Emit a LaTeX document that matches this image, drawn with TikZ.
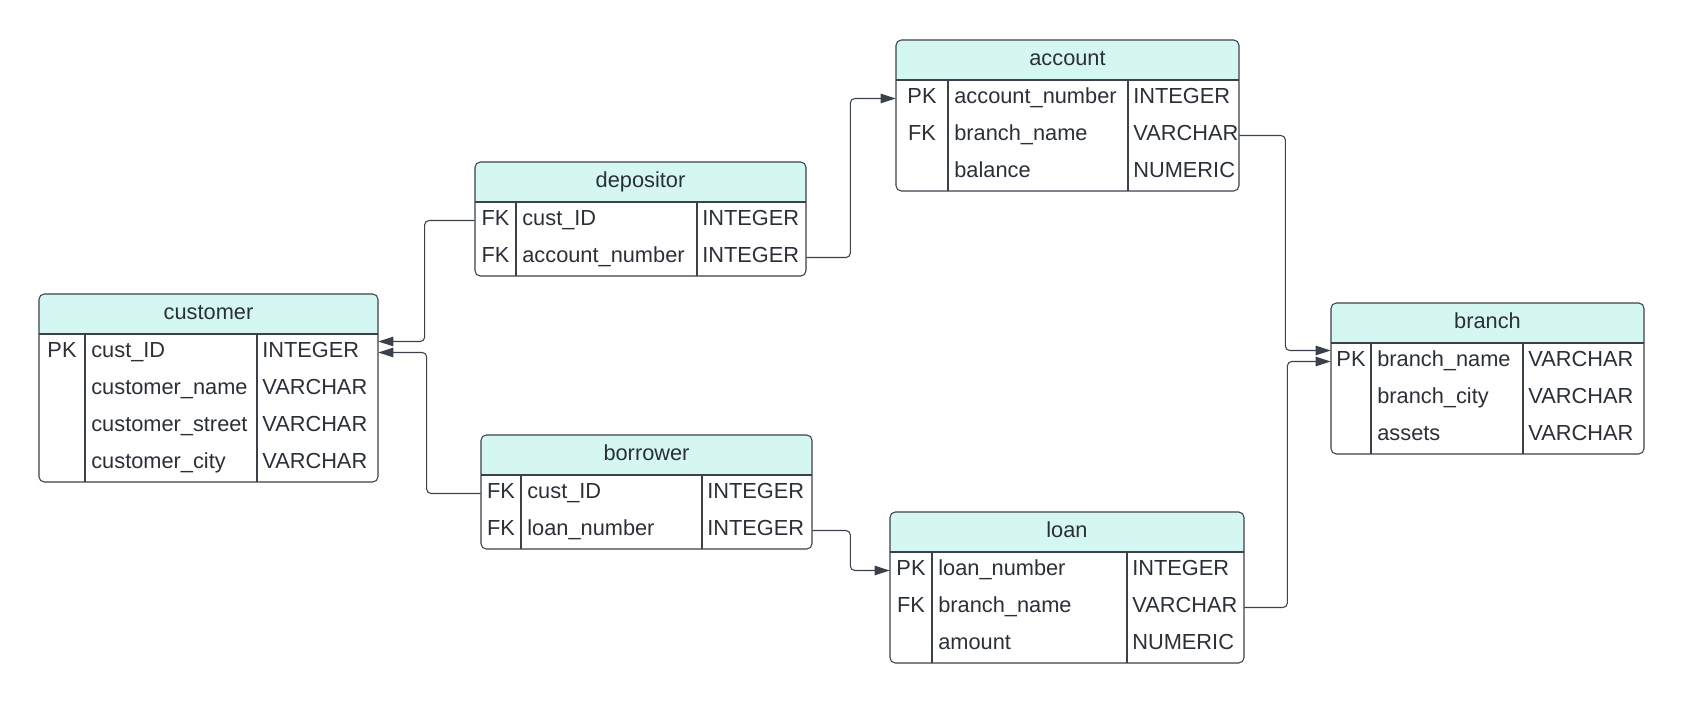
\documentclass[tikz,border=0pt]{standalone}
\usepackage{fontspec}
\setmainfont{Liberation Sans}
\usetikzlibrary{arrows.meta}

\definecolor{hdrfill}{HTML}{D5F7F2}
\definecolor{edgecol}{HTML}{3A414A}
\definecolor{txtcol}{HTML}{2B3038}

\tikzset{
  tabletext/.style={inner sep=0, text=txtcol, font=\fontsize{12.4}{15}\selectfont,
    text height=8.9pt, text depth=2.6pt},
  tabletitle/.style={tabletext, anchor=center},
  keycell/.style={tabletext, anchor=center},
  cell/.style={tabletext, anchor=west},
  rowbox/.style={inner sep=0, minimum height=0.74cm},
  tableline/.style={draw=edgecol, line width=0.6pt},
  fk/.style={draw=edgecol, line width=0.6pt, rounded corners=2.5pt,
    -{Triangle[length=0.3cm,width=0.19cm]}},
}

% #1 name, #2 title, #3 left, #4 first column, #5 second column,
% #6 right, #7 top, #8 number of rows, #9 rows key/name/type
\newcommand{\ertable}[9]{%
  \begin{scope}
    \clip[rounded corners=3pt] (#3,#7) rectangle (#6,{#7+40+37*#8});
    \fill[hdrfill] (#3,#7) rectangle (#6,{#7+40});
  \end{scope}
  \draw[tableline, rounded corners=3pt] (#3,#7) rectangle (#6,{#7+40+37*#8});
  \draw[tableline] (#3,{#7+40}) -- (#6,{#7+40});
  \draw[tableline] (#4,{#7+40}) -- (#4,{#7+40+37*#8});
  \draw[tableline] (#5,{#7+40}) -- (#5,{#7+40+37*#8});
  \node[tabletitle] (#1) at ({(#3+#6)/2},{#7+19.5}) {#2};
  \foreach \rk/\rn/\rt [count=\ri] in {#9} {
    \node[rowbox, minimum width={(#6-#3)*0.02cm}] (#1-\ri) at ({(#3+#6)/2},{#7+21.5+37*\ri}) {};
    \node[keycell] (#1-\ri-key) at ({(#3+#4)/2},{#7+20.5+37*\ri}) {\rk};
    \node[cell] (#1-\ri-name) at ({#4+6},{#7+20.5+37*\ri}) {\rn};
    \node[cell] (#1-\ri-type) at ({#5+5},{#7+20.5+37*\ri}) {\rt};
  }
}

\begin{document}
\begin{tikzpicture}[x=0.02cm, y=-0.02cm]
  \useasboundingbox (0,0) rectangle (1685,703);

  \ertable{customer}{customer}{39}{85}{257}{378}{294}{4}%
    {PK/cust\_ID/INTEGER, /customer\_name/VARCHAR, /customer\_street/VARCHAR, /customer\_city/VARCHAR}
  \ertable{depositor}{depositor}{475}{516}{697}{806}{162}{2}%
    {FK/cust\_ID/INTEGER, FK/account\_number/INTEGER}
  \ertable{account}{account}{896}{948}{1128}{1239}{40}{3}%
    {PK/account\_number/INTEGER, FK/branch\_name/VARCHAR, /balance/NUMERIC}
  \ertable{branch}{branch}{1331}{1371}{1523}{1644}{303}{3}%
    {PK/branch\_name/VARCHAR, /branch\_city/VARCHAR, /assets/VARCHAR}
  \ertable{borrower}{borrower}{481}{521}{702}{812}{435}{2}%
    {FK/cust\_ID/INTEGER, FK/loan\_number/INTEGER}
  \ertable{loan}{loan}{890}{932}{1127}{1244}{512}{3}%
    {PK/loan\_number/INTEGER, FK/branch\_name/VARCHAR, /amount/NUMERIC}

  % foreign keys
  \draw[fk] (depositor-1.west) -- ++(-50,0) |- ([yshift=0.22cm]customer-1.east);
  \draw[fk] (borrower-1.west) -- ++(-54,0) |- (customer-1.east);
  \draw[fk] (depositor-2.east) -- ++(44,0) |- (account-1.west);
  \draw[fk] (account-2.east) -- ++(46,0) |- ([yshift=0.22cm]branch-1.west);
  \draw[fk] (borrower-2.east) -- ++(38,0) |- (loan-1.west);
  \draw[fk] (loan-2.east) -- ++(43,0) |- (branch-1.west);
\end{tikzpicture}
\end{document}
